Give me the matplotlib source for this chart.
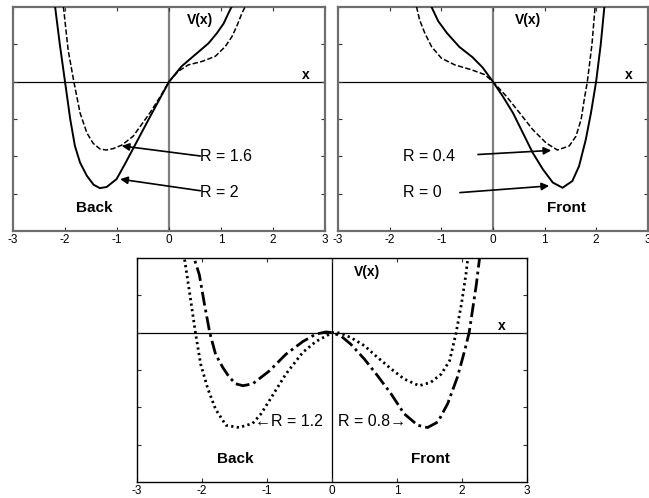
import matplotlib
matplotlib.use("Agg")
import matplotlib.pyplot as plt

plt.rcParams['font.family'] = ['Liberation Sans', 'DejaVu Sans']

# ---------------- data ----------------
# Top-left panel ("Back"): R = 2 (solid) and R = 1.6 (dashed)
x_r20 = [-2.25, -2.19, -2.10, -2.00, -1.90, -1.81, -1.71, -1.58, -1.45, -1.33, -1.20,
         -1.01, -0.85, -0.69, -0.37, 0.00, 0.24, 0.50, 0.76, 0.92, 1.05, 1.14, 1.20, 1.26]
v_r20 = [2.60, 2.00, 1.00, 0.00, -1.00, -1.72, -2.17, -2.52, -2.76, -2.85, -2.82,
         -2.61, -2.21, -1.79, -0.95, 0.00, 0.41, 0.72, 1.03, 1.30, 1.56, 1.83, 2.00, 2.50]
x_r16 = [-2.07, -2.03, -1.94, -1.83, -1.71, -1.58, -1.46, -1.33, -1.21, -1.07, -0.91,
         -0.69, -0.37, -0.17, 0.00, 0.18, 0.37, 0.63, 0.89, 1.08, 1.21, 1.30, 1.40, 1.46, 1.50]
v_r16 = [2.50, 2.00, 0.85, 0.00, -0.84, -1.37, -1.65, -1.80, -1.83, -1.79, -1.70,
         -1.46, -0.84, -0.40, 0.00, 0.28, 0.45, 0.54, 0.68, 0.94, 1.21, 1.48, 1.83, 2.00, 2.40]

# Top-right panel ("Front"): R = 0 (solid) and R = 0.4 (dashed)
x_r00 = [-1.25, -1.19, -1.06, -0.89, -0.65, -0.40, -0.20, 0.00, 0.19, 0.39, 0.58, 0.77,
         0.97, 1.16, 1.35, 1.54, 1.67, 1.80, 1.90, 2.00, 2.09, 2.16, 2.20]
v_r00 = [2.50, 2.00, 1.62, 1.30, 0.93, 0.66, 0.38, 0.00, -0.39, -0.84, -1.37, -1.90,
         -2.35, -2.70, -2.84, -2.66, -2.26, -1.55, -0.84, 0.00, 1.00, 2.00, 2.50]
x_r04 = [-1.52, -1.48, -1.42, -1.32, -1.19, -1.00, -0.74, -0.42, -0.16, 0.00, 0.26, 0.52,
         0.77, 1.03, 1.25, 1.48, 1.61, 1.71, 1.77, 1.83, 1.92, 1.98, 2.01]
v_r04 = [2.50, 2.00, 1.65, 1.30, 0.94, 0.63, 0.45, 0.32, 0.19, 0.00, -0.39, -0.84,
         -1.28, -1.64, -1.83, -1.72, -1.46, -1.01, -0.48, 0.00, 1.00, 2.00, 2.40]

# Bottom panel: R = 1.2 (dotted) and R = 0.8 (dash-dot)
x_r12 = [-2.30, -2.27, -2.20, -2.10, -2.02, -1.91, -1.79, -1.63, -1.43, -1.22, -1.09,
         -0.96, -0.71, -0.45, -0.25, -0.09, 0.00, 0.06, 0.14, 0.29, 0.50, 0.70, 0.91,
         1.11, 1.34, 1.52, 1.68, 1.81, 1.91, 1.99, 2.06, 2.09, 2.12]
v_r12 = [2.40, 1.99, 1.19, 0.00, -0.84, -1.50, -2.05, -2.48, -2.54, -2.43, -2.17,
         -1.81, -1.11, -0.53, -0.24, -0.09, 0.00, 0.01, -0.02, -0.13, -0.35, -0.66, -0.97,
         -1.24, -1.42, -1.33, -1.11, -0.75, 0.00, 0.75, 1.55, 1.99, 2.40]
x_r08 = [-2.15, -2.12, -2.04, -1.96, -1.88, -1.79, -1.68, -1.58, -1.48, -1.37, -1.22,
         -0.96, -0.71, -0.45, -0.25, -0.09, 0.00, 0.14, 0.29, 0.50, 0.70, 0.91, 1.11,
         1.32, 1.47, 1.63, 1.78, 1.93, 2.04, 2.11, 2.16, 2.22, 2.27, 2.30]
v_r08 = [2.40, 1.99, 1.55, 0.75, 0.00, -0.58, -0.93, -1.19, -1.37, -1.42, -1.37,
         -1.02, -0.58, -0.24, -0.04, 0.02, 0.00, -0.09, -0.31, -0.71, -1.15, -1.64, -2.17,
         -2.48, -2.54, -2.39, -1.90, -1.19, -0.49, 0.00, 0.58, 1.28, 1.99, 2.40]

x_ticks = [-3, -2, -1, 0, 1, 2, 3]
y_ticks = [-3, -2, -1, 0, 1]

# ---------------- figure ----------------
fig = plt.figure(figsize=(6.49, 4.98), dpi=100)
ax1 = fig.add_axes([0.020, 0.536, 0.481, 0.450])
ax2 = fig.add_axes([0.521, 0.536, 0.477, 0.450])
ax3 = fig.add_axes([0.211, 0.032, 0.601, 0.450])


def style(ax, frame_col, frame_lw, vcol, vlw):
    ax.set_xlim(-3, 3)
    ax.set_ylim(-4, 2)
    ax.set_xticks(x_ticks)
    ax.set_xticklabels([str(t) for t in x_ticks])
    ax.set_yticks(y_ticks)
    ax.set_yticklabels([])
    ax.tick_params(axis='both', direction='in', length=3, width=0.8,
                   top=True, right=True, labelsize=8.5, pad=2, color='#333333')
    for s in ax.spines.values():
        s.set_color(frame_col)
        s.set_linewidth(frame_lw)
    ax.axhline(0, color='black', lw=0.9, zorder=1)
    ax.axvline(0, color=vcol, lw=vlw, zorder=1)


arrow_kw = dict(arrowstyle='-|>', color='black', lw=1.2, mutation_scale=11,
                shrinkA=0, shrinkB=0)

# top-left
style(ax1, '#6e6e6e', 1.6, '#808080', 1.6)
ax1.plot(x_r20, v_r20, color='black', lw=1.4, zorder=3)
ax1.plot(x_r16, v_r16, color='black', lw=1.1, ls=(0, (3.5, 1.5)), zorder=3)
ax1.text(0.35, 1.65, 'V(x)', fontsize=10, fontweight='bold', va='center', ha='left')
ax1.text(2.55, 0.17, 'x', fontsize=10, fontweight='bold', va='center', ha='left')
ax1.text(0.60, -2.0, 'R = 1.6', fontsize=11.5, va='center', ha='left')
ax1.text(0.60, -2.96, 'R = 2', fontsize=11.5, va='center', ha='left')
ax1.annotate('', xy=(-0.91, -1.72), xytext=(0.60, -1.99), arrowprops=arrow_kw)
ax1.annotate('', xy=(-0.94, -2.61), xytext=(0.60, -2.92), arrowprops=arrow_kw)
ax1.text(-1.44, -3.39, 'Back', fontsize=11, fontweight='bold', va='center', ha='center')

# top-right
style(ax2, '#6e6e6e', 1.6, '#808080', 1.6)
ax2.plot(x_r00, v_r00, color='black', lw=1.4, zorder=3)
ax2.plot(x_r04, v_r04, color='black', lw=1.1, ls=(0, (3.5, 1.5)), zorder=3)
ax2.text(0.42, 1.65, 'V(x)', fontsize=10, fontweight='bold', va='center', ha='left')
ax2.text(2.55, 0.17, 'x', fontsize=10, fontweight='bold', va='center', ha='left')
ax2.text(-1.74, -2.0, 'R = 0.4', fontsize=11.5, va='center', ha='left')
ax2.text(-1.74, -2.96, 'R = 0', fontsize=11.5, va='center', ha='left')
ax2.annotate('', xy=(1.13, -1.84), xytext=(-0.29, -1.95), arrowprops=arrow_kw)
ax2.annotate('', xy=(1.09, -2.79), xytext=(-0.64, -2.97), arrowprops=arrow_kw)
ax2.text(1.42, -3.39, 'Front', fontsize=11, fontweight='bold', va='center', ha='center')

# bottom
style(ax3, 'black', 1.0, 'black', 0.9)
ax3.plot(x_r12, v_r12, color='black', lw=2.0, ls=(0, (0.8, 1.2)), zorder=3)
ax3.plot(x_r08, v_r08, color='black', lw=2.0, ls=(0, (5, 1.5, 1, 1.5)), zorder=3)
ax3.text(0.34, 1.63, 'V(x)', fontsize=10, fontweight='bold', va='center', ha='left')
ax3.text(2.55, 0.17, 'x', fontsize=10, fontweight='bold', va='center', ha='left')
ax3.text(-0.14, -2.38, '\u2190R = 1.2', fontsize=11.5, va='center', ha='right')
ax3.text(0.09, -2.38, 'R = 0.8\u2192', fontsize=11.5, va='center', ha='left')
ax3.text(-1.49, -3.39, 'Back', fontsize=11, fontweight='bold', va='center', ha='center')
ax3.text(1.52, -3.39, 'Front', fontsize=11, fontweight='bold', va='center', ha='center')

fig.savefig('out.png', dpi=100)
